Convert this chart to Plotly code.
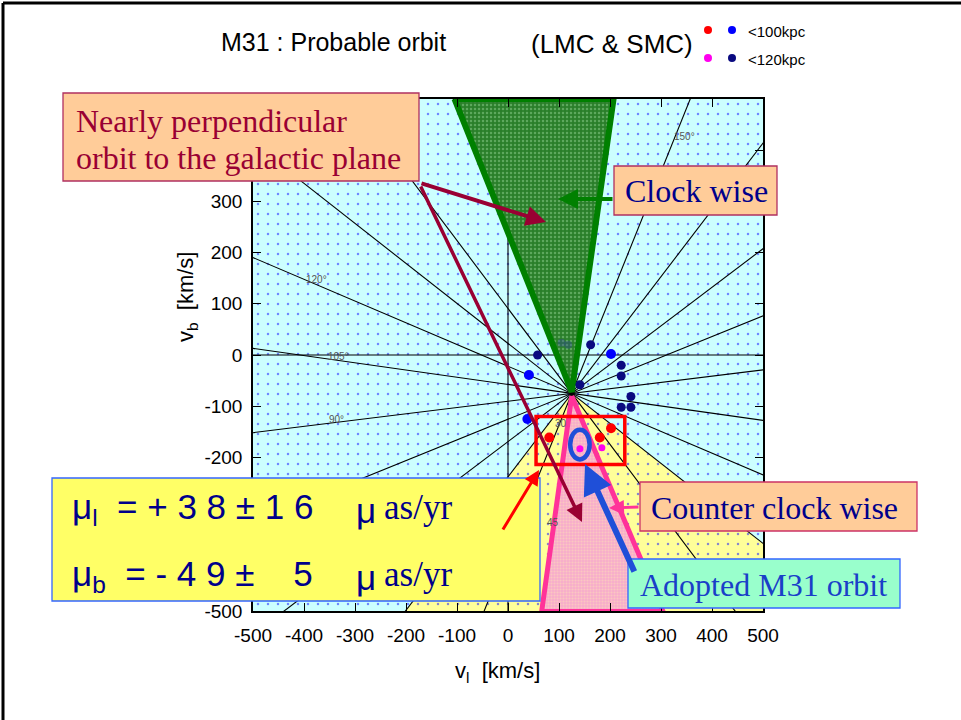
import numpy as np
import plotly.graph_objects as go

# ---------------- data ----------------
x_tick_vals = [-500, -400, -300, -200, -100, 0, 100, 200, 300, 400, 500]
y_tick_vals = [-500, -400, -300, -200, -100, 0, 100, 200, 300, 400, 500]
x_tick_text = ["-500", "-400", "-300", "-200", "-100", "0", "100", "200", "300", "400", "500"]
# labels -400, -300, 400, 500 are covered by the text boxes in the original slide
y_tick_text = ["-500", "", "", "-200", "-100", "0", "100", "200", "300", "", ""]

fan_center_x = 125
fan_center_y = -75
fan_angles = [7, 22, 37, 52.5, 68, 82, 97, 112, 127, 142, 157, 172]   # line directions (deg)
yellow_bounds = [52.5, 142]   # yellow wedge lies below the centre between these two lines

green_x = [-105, 207, 125]
green_y = [500, 500, -72]
pink_x = [125, 66, 304]
pink_y = [-80, -501, -501]

red_x = [81, 180, 202]
red_y = [-161, -161, -143]
magenta_x = [184, 141]
magenta_y = [-181, -183]
blue_x = [41, 202, 38]
blue_y = [-39, 2, -125]
navy_x = [58, 162, 222, 222, 241, 222, 241, 141]
navy_y = [0, 20, -20, -41, -81, -102, -102, -58]
faint_x = [105, 118]
faint_y = [24, 20]

box_x = [55, 229]
box_y = [-214, -120]
ellipse_x = [122, 160]
ellipse_y = [-204, -146]

angle_labels = ["90°", "105°", "120°", "150°", "30", "45"]
angle_label_x = [-337, -333, -375, 347, 104, 89]
angle_label_y = [-126, -3, 147, 427, -133, -328]

# ---------------- layout helpers ----------------
FIG_W, FIG_H = 961, 720
M_L, M_R, M_T, M_B = 253, 198, 99, 109


def px(p):
    return (p - M_L) / (FIG_W - M_L - M_R)


def py(p):
    return (FIG_H - M_B - p) / (FIG_H - M_T - M_B)


SANS = "Liberation Sans, Arial, sans-serif"
SERIF = "Liberation Serif, Times New Roman, serif"
NAVY = "#00008b"
MAROON = "#990033"

fig = go.Figure()

# background with dotted pattern
fig.add_trace(go.Scatter(
    x=[-520, 520, 520, -520, -520], y=[-520, -520, 520, 520, -520],
    mode="lines", line=dict(width=0), fill="toself", fillcolor="#ccffff",
    fillpattern=dict(shape=".", fgcolor="#1010ff", bgcolor="#ccffff", size=10, solidity=0.05),
    hoverinfo="skip"))

# yellow wedge
R = 3000
a1 = np.radians(yellow_bounds[0] + 180)
a2 = np.radians(yellow_bounds[1] + 180)
am = (a1 + a2) / 2
wx = [fan_center_x, fan_center_x + R * np.cos(a1), fan_center_x + 2 * R * np.cos(am),
      fan_center_x + R * np.cos(a2), fan_center_x]
wy = [fan_center_y, fan_center_y + R * np.sin(a1), fan_center_y + 2 * R * np.sin(am),
      fan_center_y + R * np.sin(a2), fan_center_y]
fig.add_trace(go.Scatter(
    x=wx, y=wy, mode="lines", line=dict(width=0), fill="toself", fillcolor="#ffff99",
    fillpattern=dict(shape=".", fgcolor="#1010ff", bgcolor="#ffff99", size=10, solidity=0.05),
    hoverinfo="skip"))

# fan of lines through the centre
lx, ly = [], []
for a in fan_angles:
    t = np.radians(a)
    lx += [fan_center_x - R * np.cos(t), fan_center_x + R * np.cos(t), None]
    ly += [fan_center_y - R * np.sin(t), fan_center_y + R * np.sin(t), None]
# zero lines
lx += [-500, 500, None, 0, 0]
ly += [0, 0, None, -500, 500]
fig.add_trace(go.Scatter(x=lx, y=ly, mode="lines", line=dict(color="black", width=1.1),
                         hoverinfo="skip"))

# green (clock wise) cone
fig.add_trace(go.Scatter(
    x=green_x + [green_x[0]], y=green_y + [green_y[0]], mode="lines",
    line=dict(color="#008000", width=6), fill="toself", fillcolor="#3a8c3a",
    fillpattern=dict(shape=".", fgcolor="#8fd08f", bgcolor="#2a7f2a", size=4, solidity=0.3),
    hoverinfo="skip"))

# pink (counter clock wise) cone
fig.add_trace(go.Scatter(
    x=pink_x + [pink_x[0]], y=pink_y + [pink_y[0]], mode="lines",
    line=dict(color="#ff3399", width=5), fill="toself", fillcolor="#f7b0cc",
    fillpattern=dict(shape=".", fgcolor="#fde3b5", bgcolor="#f7adca", size=3, solidity=0.35),
    hoverinfo="skip"))

# points
fig.add_trace(go.Scatter(x=faint_x, y=faint_y, mode="markers",
                         marker=dict(color="#3040a0", size=8, opacity=0.35), hoverinfo="skip"))
fig.add_trace(go.Scatter(x=navy_x, y=navy_y, mode="markers",
                         marker=dict(color="#0a0a80", size=9), hoverinfo="skip"))
fig.add_trace(go.Scatter(x=blue_x, y=blue_y, mode="markers",
                         marker=dict(color="#0000ff", size=10), hoverinfo="skip"))
fig.add_trace(go.Scatter(x=red_x, y=red_y, mode="markers",
                         marker=dict(color="#ff0000", size=10), hoverinfo="skip"))
fig.add_trace(go.Scatter(x=magenta_x, y=magenta_y, mode="markers",
                         marker=dict(color="#ff00ee", size=7), hoverinfo="skip"))

shapes = []
# red box and adopted ellipse
shapes.append(dict(type="rect", xref="x", yref="y", x0=box_x[0], x1=box_x[1],
                   y0=box_y[0], y1=box_y[1], line=dict(color="#ff0000", width=3.5), layer="above"))
shapes.append(dict(type="circle", xref="x", yref="y", x0=ellipse_x[0], x1=ellipse_x[1],
                   y0=ellipse_y[0], y1=ellipse_y[1], line=dict(color="#1f4fd8", width=4.5),
                   layer="above"))


def pbox(x0, y0, x1, y1, fill, border):
    shapes.append(dict(type="rect", xref="paper", yref="paper", x0=px(x0), x1=px(x1),
                       y0=py(y1), y1=py(y0), fillcolor=fill, line=dict(color=border, width=1.3),
                       layer="above"))


pbox(63, 93, 419, 181, "#ffcc99", "#b03060")
pbox(614, 166, 777, 215, "#ffcc99", "#b03060")
pbox(52, 478, 540, 601, "#ffff66", "#3366ff")
pbox(640, 482, 917, 531, "#ffcc99", "#cc3366")
pbox(628, 559, 900, 608, "#99ffcc", "#3366ff")

# slide frame
shapes.append(dict(type="line", xref="paper", yref="paper", x0=px(3), x1=px(3), y0=py(3), y1=py(720),
                   line=dict(color="black", width=3), layer="above"))
shapes.append(dict(type="line", xref="paper", yref="paper", x0=px(3), x1=px(961), y0=py(3), y1=py(3),
                   line=dict(color="black", width=3), layer="above"))

# legend dots
for cx, cy, col in [(708, 30, "#ff0000"), (732, 30, "#0000ff"), (708, 58, "#ff00ee"), (732, 58, "#0a0a80")]:
    shapes.append(dict(type="circle", xref="paper", yref="paper", x0=px(cx - 4), x1=px(cx + 4),
                       y0=py(cy + 4), y1=py(cy - 4), fillcolor=col, line=dict(width=0)))

ann = []


def text(t, x, y, size, color="black", family=SANS, xanchor="left", **kw):
    ann.append(dict(text=t, x=px(x), y=py(y), xref="paper", yref="paper", showarrow=False,
                    xanchor=xanchor, yanchor="middle", align="left",
                    font=dict(size=size, color=color, family=family), **kw))


def arrow(tx, ty, hx, hy, color, width, head=2, size=1.0):
    ann.append(dict(text="", x=px(hx), y=py(hy), xref="paper", yref="paper", showarrow=True,
                    ax=tx - hx, ay=ty - hy, axref="pixel", ayref="pixel", arrowhead=head,
                    arrowsize=size, arrowwidth=width, arrowcolor=color, standoff=0, startstandoff=0))


# angle labels on the fan
for t, x, y in zip(angle_labels, angle_label_x, angle_label_y):
    ann.append(dict(text=t, x=x, y=y, xref="x", yref="y", showarrow=False,
                    font=dict(size=10, color="#555555", family=SANS)))

# titles
text("M31 : Probable orbit", 219, 42, 25)
text("(LMC &amp; SMC)", 529, 44, 26)
text("&lt;100kpc", 746, 31, 15)
text("&lt;120kpc", 746, 59, 15)

# axis titles
text("v<sub>l</sub>  [km/s]", 497, 672, 22, xanchor="center")
text("v<sub>b</sub>  [km/s]", 187, 297, 22, xanchor="center", textangle=-90)

# box texts
text("Nearly perpendicular", 74, 121, 32, MAROON, SERIF)
text("orbit to the galactic plane", 74, 158, 32, MAROON, SERIF)
text("Clock wise", 696, 191, 32, NAVY, SERIF, xanchor="center")
text("Counter clock wise", 774, 508, 32, NAVY, SERIF, xanchor="center")
text("Adopted M31 orbit", 763, 585, 32, "#1a3fc8", SERIF, xanchor="center")

NB = "\u00a0"
text("μ<sub>l</sub>" + NB * 2 + "= + 3 8 ± 1 6".replace(" ", NB), 70, 509, 35, NAVY, SANS)
text("μ", 354, 510, 35, NAVY, SANS)
text("as/yr", 382, 507, 35, NAVY, SERIF)
text("μ<sub>b</sub>" + NB * 2 + ("= - 4 9 ±" + NB * 4 + "5").replace(" ", NB), 70, 576, 35, NAVY, SANS)
text("μ", 354, 577, 35, NAVY, SANS)
text("as/yr", 382, 574, 35, NAVY, SERIF)

# arrows
arrow(420, 183, 546, 222, MAROON, 4)
arrow(420, 185, 582, 522, MAROON, 3.5)
arrow(614, 199, 558, 199, "#008000", 4)
arrow(502, 531, 539, 470, "#ff0000", 3)
arrow(640, 507, 609, 508, "#ff3399", 3)
arrow(635, 573, 585, 464, "#1f4fd8", 6)

axis_common = dict(range=[-500, 500], showgrid=False, zeroline=False, showline=True,
                   linecolor="black", linewidth=1.5, mirror="ticks", ticks="inside", ticklen=8,
                   tickwidth=1.2, tickcolor="black", layer="above traces",
                   tickfont=dict(size=19, color="black", family=SANS), fixedrange=True)

fig.update_layout(
    width=FIG_W, height=FIG_H,
    margin=dict(l=M_L, r=M_R, t=M_T, b=M_B),
    paper_bgcolor="white", plot_bgcolor="#ccffff",
    showlegend=False,
    xaxis=dict(tickvals=x_tick_vals, ticktext=x_tick_text, ticklabelstandoff=6, **axis_common),
    yaxis=dict(tickvals=y_tick_vals, ticktext=y_tick_text, ticklabelstandoff=5, **axis_common),
    shapes=shapes, annotations=ann,
)

fig.write_html("out.html", config={"displayModeBar": False},
               post_script="document.body.style.margin='0px';document.body.style.overflow='hidden';")
